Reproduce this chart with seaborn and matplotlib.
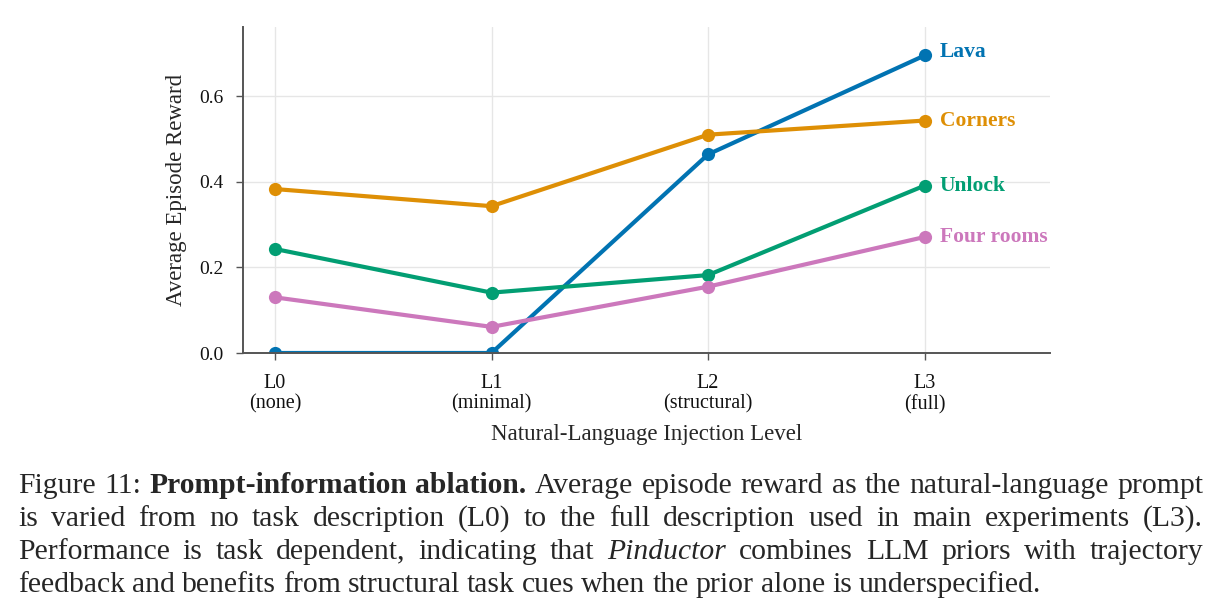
"""
Prompt-information ablation line chart with caption.
"""
import matplotlib
matplotlib.use('Agg')
import matplotlib.pyplot as plt
import seaborn as sns
import pandas as pd

# Data
levels = ["L0\n(none)", "L1\n(minimal)", "L2\n(structural)", "L3\n(full)"]
tasks = ["Lava", "Corners", "Unlock", "Four rooms"]
lava = [0.0, 0.0, 0.464, 0.695]
corners = [0.383, 0.343, 0.510, 0.543]
unlock = [0.243, 0.141, 0.182, 0.391]
four_rooms = [0.130, 0.061, 0.155, 0.271]
colors = ["#0173b2", "#de8f05", "#029e73", "#cc78bc"]

caption_lines = [
    [("Figure 11: ", "normal"), ("Prompt-information ablation.", "bold"),
     ("Average episode reward as the natural-language prompt", "normal")],
    [("is varied from no task description (L0) to the full description used in main experiments (L3).", "normal")],
    [("Performance is task dependent, indicating that", "normal"), ("Pinductor", "italic"),
     ("combines LLM priors with trajectory", "normal")],
    [("feedback and benefits from structural task cues when the prior alone is underspecified.", "normal")],
]

sns.set_theme(style="whitegrid")
plt.rcParams['font.family'] = ['Liberation Serif', 'DejaVu Serif']

rows = []
for name, vals in zip(tasks, [lava, corners, unlock, four_rooms]):
    for i, v in enumerate(vals):
        rows.append({"level": i, "task": name, "reward": v})
df = pd.DataFrame(rows)

fig = plt.figure(figsize=(12.24, 6.12), dpi=100)
ax = fig.add_axes([0.1985, 0.4232, 0.6595, 0.533])

sns.lineplot(data=df, x="level", y="reward", hue="task", hue_order=tasks,
             palette=colors, marker="o", markersize=9.5, markeredgewidth=0,
             linewidth=3.0, legend=False, ax=ax)

for name, vals, c in zip(tasks, [lava, corners, unlock, four_rooms], colors):
    dy = 2.5 if name == "Lava" else 0
    ax.annotate(name, xy=(3, vals[-1]), xytext=(11, dy), textcoords="offset points",
                color=c, fontweight="bold", fontsize=15.5, va="center", ha="left")

ax.set_xlim(-0.148, 3.58)
ax.set_ylim(0, 0.762)
ax.set_xticks(range(len(levels)))
ax.set_xticklabels(levels, fontsize=14.5, linespacing=1.12)
ax.set_yticks([0.0, 0.2, 0.4, 0.6])
ax.set_yticklabels(["0.0", "0.2", "0.4", "0.6"], fontsize=14)
ax.set_xlabel("Natural-Language Injection Level", fontsize=16.5, labelpad=7)
ax.set_ylabel("Average Episode Reward", fontsize=16.5, labelpad=9)
ax.grid(True, color="#e6e6e6", linewidth=1.0)
ax.set_facecolor("white")
for side in ["top", "right"]:
    ax.spines[side].set_visible(False)
for side in ["left", "bottom"]:
    ax.spines[side].set_color("#555555")
    ax.spines[side].set_linewidth(1.4)
ax.tick_params(axis="both", direction="out", length=5, width=1.0,
               left=True, bottom=True, labelcolor="#111111", color="#555555")
ax.tick_params(axis="y", pad=9)
ax.tick_params(axis="x", pad=10)

# Justified caption, placed word by word
fig.canvas.draw()
renderer = fig.canvas.get_renderer()
cap_size = 21.3
x_left, x_right = 18 / 1224, 1203 / 1224
baselines = [493, 526, 559, 592]
for li, (line, base) in enumerate(zip(caption_lines, baselines)):
    words = []
    for chunk, style in line:
        for w in chunk.split():
            words.append((w, style))
    texts = []
    for w, style in words:
        t = fig.text(0, 1 - base / 612, w, fontsize=cap_size, va="baseline", ha="left",
                     fontweight="bold" if style == "bold" else "normal",
                     fontstyle="italic" if style == "italic" else "normal")
        texts.append(t)
    widths = [t.get_window_extent(renderer).width / 1224 for t in texts]
    last = li == len(caption_lines) - 1
    if last:
        gap = 0.0057
    else:
        gap = (x_right - x_left - sum(widths)) / (len(words) - 1)
    x = x_left
    for t, w in zip(texts, widths):
        t.set_x(x)
        x += w + gap

fig.savefig("out.png", dpi=100)
plt.close(fig)
